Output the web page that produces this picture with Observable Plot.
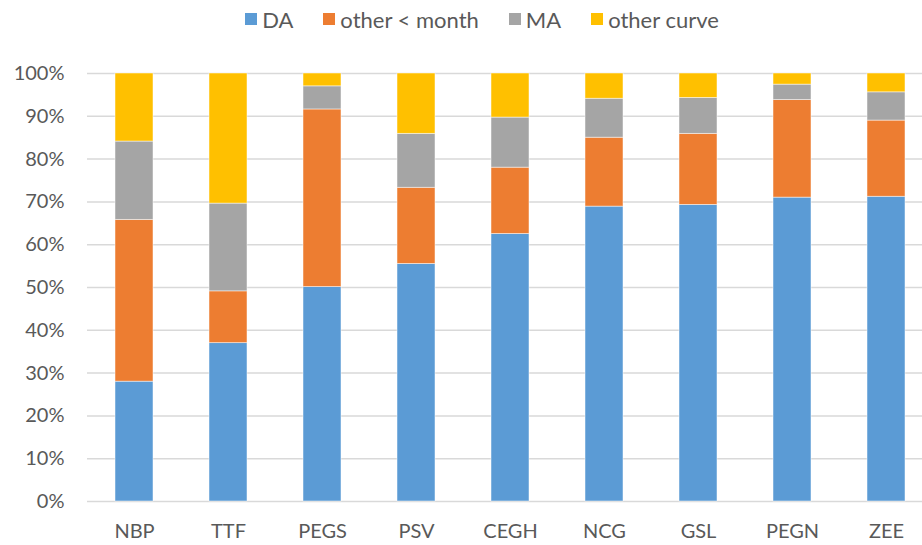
<!DOCTYPE html>
<html>
<head>
<meta charset="utf-8">
<script src="https://cdn.jsdelivr.net/npm/d3@7"></script>
<script src="https://cdn.jsdelivr.net/npm/@observablehq/plot@0.6"></script>
<style>
  html, body { margin: 0; padding: 0; background: #fff; }
  body { width: 922px; height: 545px; overflow: hidden; font-family: Lato, "Open Sans", sans-serif; }
  #legend { height: 45px; display: flex; justify-content: center; align-items: center; padding-left: 42px; padding-bottom: 7px; box-sizing: border-box; color: #595959; font-size: 22px; }
  .item { display: flex; align-items: center; margin: 0 15px; }
  .sw { width: 12px; height: 12px; margin-right: 5px; }
</style>
</head>
<body>
<div id="legend"></div>
<div id="chart"></div>
<script>
const hubs = ["NBP", "TTF", "PEGS", "PSV", "CEGH", "NCG", "GSL", "PEGN", "ZEE"];
const seriesNames = ["DA", "other < month", "MA", "other curve"];
const seriesColors = ["#5b9bd5", "#ed7d31", "#a5a5a5", "#ffc000"];
const daValues = [28.0, 37.0, 50.1, 55.5, 62.5, 68.9, 69.3, 71.0, 71.2];
const otherMonthValues = [37.8, 12.1, 41.5, 17.8, 15.5, 16.1, 16.6, 22.8, 17.8];
const maValues = [18.3, 20.5, 5.4, 12.6, 11.7, 9.1, 8.4, 3.6, 6.6];
const otherCurveValues = [15.9, 30.4, 3.0, 14.1, 10.3, 5.9, 5.7, 2.6, 4.4];
const yTicks = [0, 10, 20, 30, 40, 50, 60, 70, 80, 90, 100];

const seriesValues = [daValues, otherMonthValues, maValues, otherCurveValues];
const rows = [];
seriesNames.forEach((s, si) => {
  hubs.forEach((h, hi) => rows.push({hub: h, series: s, value: seriesValues[si][hi]}));
});

// legend
const legend = document.getElementById("legend");
seriesNames.forEach((s, i) => {
  const it = document.createElement("div");
  it.className = "item";
  const sw = document.createElement("div");
  sw.className = "sw";
  sw.style.background = seriesColors[i];
  const t = document.createElement("span");
  t.textContent = s;
  it.appendChild(sw); it.appendChild(t);
  legend.appendChild(it);
});

const chart = Plot.plot({
  width: 922,
  height: 500,
  marginTop: 28,
  marginBottom: 44,
  marginLeft: 87,
  marginRight: 0,
  style: {fontFamily: "Lato, sans-serif", fontSize: "20px", color: "#595959", background: "#fff"},
  x: {domain: hubs, range: [87, 933], paddingInner: 0.6, paddingOuter: 0.3, label: null},
  y: {domain: [0, 100], label: null},
  color: {domain: seriesNames, range: seriesColors},
  marks: [
    Plot.ruleY(yTicks, {stroke: "#d9d9d9", strokeWidth: 1.5}),
    Plot.barY(rows, Plot.stackY({x: "hub", y: "value", fill: "series", stroke: "#ffffff", strokeWidth: 0.8, strokeOpacity: 0.6})),
    Plot.axisY({ticks: yTicks, tickFormat: d => d + "%", tickSize: 0, tickPadding: 23, label: null}),
    Plot.axisX({tickSize: 0, tickPadding: 22, label: null})
  ]
});
document.getElementById("chart").appendChild(chart);
</script>
</body>
</html>
